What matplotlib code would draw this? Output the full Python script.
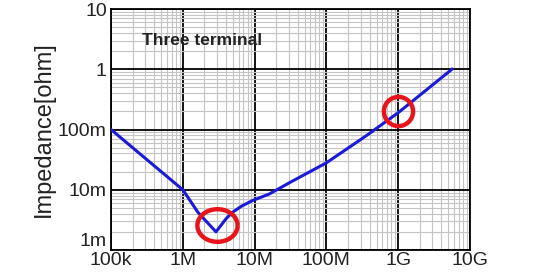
import matplotlib
matplotlib.use("Agg")
import matplotlib.pyplot as plt
from matplotlib.ticker import LogLocator, NullFormatter, FixedLocator, FixedFormatter
from matplotlib.path import Path
import numpy as np

# impedance curve (Hz, ohm)
freq = [1e5, 3.16e5, 1.0e6, 1.63e6, 2.9e6, 4.0e6, 4.9e6, 6.5e6, 9.3e6, 1.6e7, 3.1e7, 1e8, 3.6e8, 1e9, 5.6e9]
imp = [0.1, 0.0316, 0.01, 0.0042, 0.002, 0.0033, 0.0042, 0.0053, 0.0066, 0.0085, 0.0132, 0.028, 0.079, 0.19, 1.0]

xticks = [1e5, 1e6, 1e7, 1e8, 1e9, 1e10]
xlabels = ['100k', '1M', '10M', '100M', '1G', '10G']
yticks = [1e-3, 1e-2, 1e-1, 1, 10]
ylabels = ['1m', '10m', '100m', '1', '10']

# highlighted spots
mark1 = (2.95e6, 2.6e-3)
mark2 = (1e9, 0.2)

plt.rcParams['font.family'] = ['Liberation Sans', 'DejaVu Sans']

fig = plt.figure(figsize=(5.4, 2.72), dpi=100)
ax = fig.add_axes([111/540, 22/272, 359/540, 241/272])

ax.set_xscale('log')
ax.set_yscale('log')
ax.set_xlim(1e5, 1e10)
ax.set_ylim(1e-3, 10)

ax.xaxis.set_major_locator(FixedLocator(xticks))
ax.xaxis.set_major_formatter(FixedFormatter(xlabels))
ax.yaxis.set_major_locator(FixedLocator(yticks))
ax.yaxis.set_major_formatter(FixedFormatter(ylabels))
ax.xaxis.set_minor_locator(LogLocator(base=10, subs=np.arange(2, 10), numticks=20))
ax.yaxis.set_minor_locator(LogLocator(base=10, subs=np.arange(2, 10), numticks=20))
ax.xaxis.set_minor_formatter(NullFormatter())
ax.yaxis.set_minor_formatter(NullFormatter())

ax.grid(which='minor', color='#c4c4c4', linewidth=0.8)
ax.grid(which='major', color='black', linewidth=1.3)
ax.set_axisbelow(True)
ax.tick_params(which='both', length=0, labelsize=14, labelcolor='#222222')
ax.tick_params(axis='x', pad=1.5)
ax.tick_params(axis='y', pad=3)
for s in ax.spines.values():
    s.set_linewidth(1.3)

ax.yaxis.get_major_ticks()[0].label1.set_va('bottom')

ax.plot(freq, imp, color='#1a1ad8', linewidth=2.2, zorder=3)

# ellipse marker for the first circle
t = np.linspace(0, 2*np.pi, 60)
ell = Path(np.column_stack([np.cos(t), 0.81*np.sin(t)]))
ax.plot(*mark1, marker=ell, markersize=29, markerfacecolor='none',
        markeredgecolor='#e8141c', markeredgewidth=3.2, zorder=4)
ax.plot(*mark2, marker='o', markersize=21, markerfacecolor='none',
        markeredgecolor='#e8141c', markeredgewidth=3.2, zorder=4)

ax.text(0.086, 0.871, 'Three terminal', transform=ax.transAxes, fontsize=12.5,
        fontweight='bold', color='#222222', va='center', ha='left')

ax.set_ylabel('Impedance[ohm]', fontsize=17, color='#222222', labelpad=2)

fig.savefig('out.png', dpi=100, facecolor='white')
